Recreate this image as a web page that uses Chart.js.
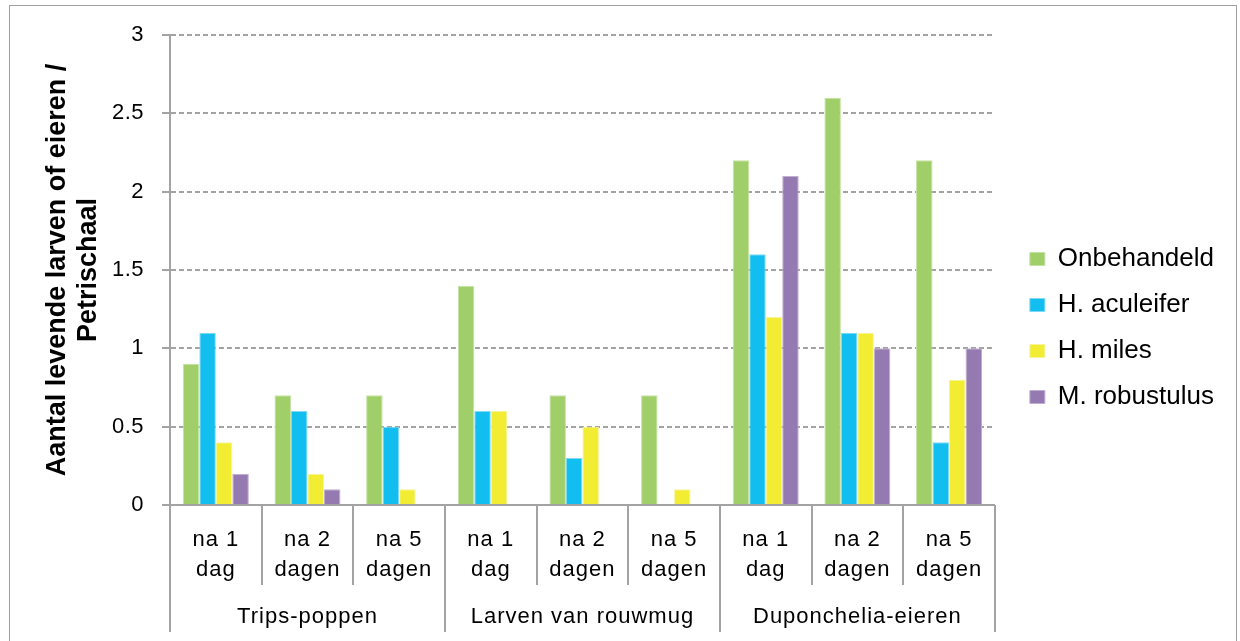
<!DOCTYPE html>
<html>
<head>
<meta charset="utf-8">
<script src="https://cdn.jsdelivr.net/npm/chart.js@4/dist/chart.umd.min.js"></script>
<style>
  html, body { margin: 0; padding: 0; background: #fff; }
</style>
</head>
<body>
<canvas id="grafiek" width="1240" height="641"></canvas>
<script>
// data
const categories = [
  ['na 1', 'dag'], ['na 2', 'dagen'], ['na 5', 'dagen'],
  ['na 1', 'dag'], ['na 2', 'dagen'], ['na 5', 'dagen'],
  ['na 1', 'dag'], ['na 2', 'dagen'], ['na 5', 'dagen']
];
const groups = ['Trips-poppen', 'Larven van rouwmug', 'Duponchelia-eieren'];
const groupSize = 3;

const onbehandeld = [0.9, 0.7, 0.7, 1.4, 0.7, 0.7, 2.2, 2.6, 2.2];
const aculeifer   = [1.1, 0.6, 0.5, 0.6, 0.3, 0,   1.6, 1.1, 0.4];
const miles       = [0.4, 0.2, 0.1, 0.6, 0.5, 0.1, 1.2, 1.1, 0.8];
const robustulus  = [0.2, 0.1, 0,   0,   0,   0,   2.1, 1.0, 1.0];

const yTicks = [0, 0.5, 1, 1.5, 2, 2.5, 3];

const lijnKleur = '#a3a3a3';
const fontFam = "'Liberation Sans', Arial, sans-serif";

// aslabels iets breder zetten, zoals in het origineel
function spatieer(scale, ruimte) {
  if (scale._gespreid) return;
  const origineel = scale.drawLabels.bind(scale);
  scale.drawLabels = area => {
    scale.ctx.letterSpacing = ruimte;
    origineel(area);
    scale.ctx.letterSpacing = '0px';
  };
  scale._gespreid = true;
}

// legenda iets naar rechts en omhoog schuiven
const legendaPlek = {
  id: 'legendaPlek',
  afterLayout(chart) {
    const l = chart.legend;
    l.left += 15; l.right += 15;
    l.top -= 10; l.bottom -= 10;
  }
};

// kader, scheidingslijnen en groepslabels onder de x-as
const groepLabels = {
  id: 'groepLabels',
  beforeDraw(chart) {
    const ctx = chart.ctx;
    ctx.save();
    ctx.strokeStyle = '#a0a0a0';
    ctx.lineWidth = 1;
    ctx.strokeRect(9.5, 5.5, 1227, 700);
    ctx.restore();
  },
  afterDraw(chart) {
    const ctx = chart.ctx;
    const x = chart.scales.x;
    const n = categories.length;
    const grens = [];
    for (let i = 0; i <= n; i++) {
      if (i === 0) grens.push(x.left);
      else if (i === n) grens.push(x.right);
      else grens.push((x.getPixelForValue(i - 1) + x.getPixelForValue(i)) / 2);
    }
    ctx.save();
    ctx.strokeStyle = lijnKleur;
    ctx.lineWidth = 2;
    grens.forEach((px, i) => {
      const eind = i % groupSize === 0 ? 632 : 585;
      ctx.beginPath();
      ctx.moveTo(Math.round(px), x.top);
      ctx.lineTo(Math.round(px), eind);
      ctx.stroke();
    });
    ctx.fillStyle = '#000';
    ctx.font = '22px ' + fontFam;
    ctx.letterSpacing = '1px';
    ctx.textAlign = 'center';
    ctx.textBaseline = 'middle';
    groups.forEach((g, i) => {
      const midden = (grens[i * groupSize] + grens[(i + 1) * groupSize]) / 2;
      ctx.fillText(g, midden, 617);
    });
    ctx.restore();
  }
};

function reeks(label, data, kleur, rand) {
  return {
    label,
    data,
    backgroundColor: kleur,
    borderColor: rand,
    borderWidth: c => (c.raw ? 1 : 0),
    borderSkipped: 'bottom'
  };
}

new Chart(document.getElementById('grafiek').getContext('2d'), {
  type: 'bar',
  data: {
    labels: categories,
    datasets: [
      reeks('Onbehandeld', onbehandeld, '#a0ce68', '#c4e2a2'),
      reeks('H. aculeifer', aculeifer, '#12bef0', '#7fd9f5'),
      reeks('H. miles', miles, '#f2ec33', '#f8f39a'),
      reeks('M. robustulus', robustulus, '#9579b1', '#c0afd2')
    ]
  },
  options: {
    responsive: false,
    animation: false,
    layout: { padding: { top: 35, left: 0, right: 31, bottom: 0 } },
    datasets: { bar: { categoryPercentage: 0.72, barPercentage: 1 } },
    scales: {
      x: {
        afterFit(scale) { scale.height = 136; spatieer(scale, '1px'); },
        grid: { display: false, drawTicks: false },
        border: { color: lijnKleur, width: 2 },
        ticks: {
          autoSkip: false,
          maxRotation: 0,
          padding: 20,
          color: '#000',
          font: { family: fontFam, size: 22, lineHeight: '30px' }
        }
      },
      y: {
        min: 0,
        max: 3,
        afterFit(scale) { scale.width = 170; spatieer(scale, '0.5px'); },
        afterBuildTicks(scale) { scale.ticks = yTicks.map(v => ({ value: v })); },
        grid: {
          color: lijnKleur,
          lineWidth: 2,
          tickLength: 8,
          tickBorderDash: []
        },
        border: { color: lijnKleur, width: 2, dash: [5, 3] },
        ticks: {
          padding: 18,
          color: '#000',
          font: { family: fontFam, size: 22 },
          callback: v => String(v)
        },
        title: {
          display: true,
          text: ['Aantal levende larven of eieren /', 'Petrischaal'],
          color: '#000',
          font: { family: fontFam, size: 27, weight: 'bold', lineHeight: '31px' },
          padding: { top: 42 }
        }
      }
    },
    plugins: {
      legend: {
        position: 'right',
        labels: {
          boxWidth: 15,
          boxHeight: 13,
          padding: 20,
          color: '#000',
          font: { family: fontFam, size: 26 }
        }
      },
      tooltip: { enabled: false }
    }
  },
  plugins: [legendaPlek, groepLabels]
});
</script>
</body>
</html>
